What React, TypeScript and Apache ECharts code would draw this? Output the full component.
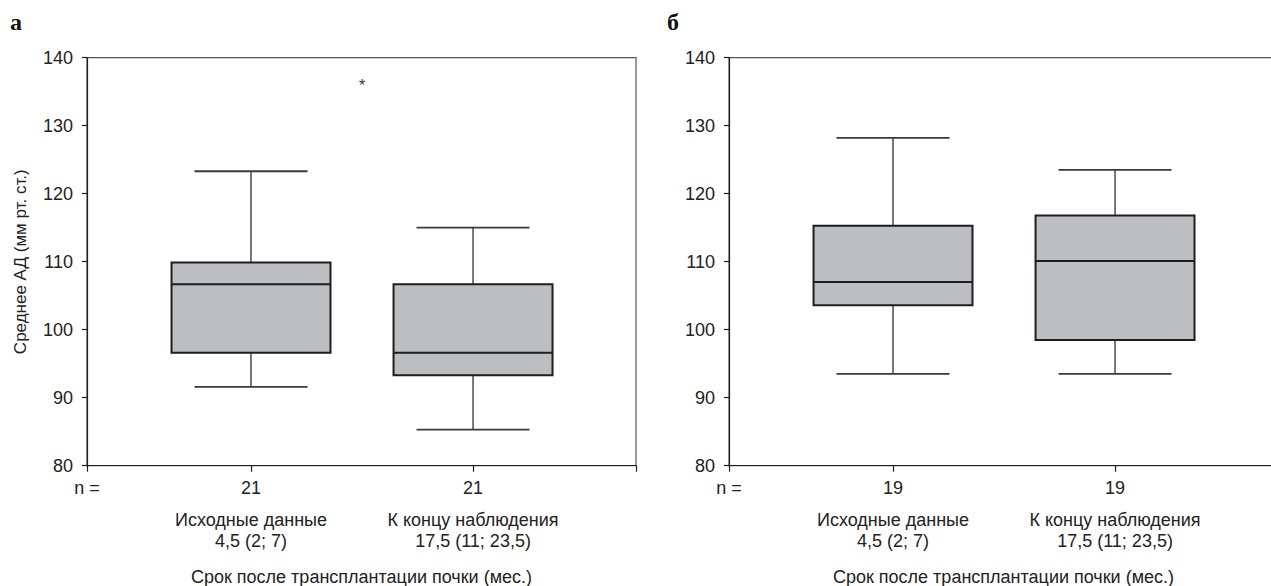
import React, { useEffect, useRef } from "react";
import * as echarts from "echarts";

// ---- data ----
const categories = ["Исходные данные", "К концу наблюдения"];
const periods = ["4,5 (2; 7)", "17,5 (11; 23,5)"];
const catPos = [1, 2];
const nA = [21, 21];
const nB = [19, 19];
// [low whisker, Q1, median, Q3, high whisker]
const boxA = [
  [91.6, 96.6, 106.7, 109.9, 123.3],
  [85.3, 93.3, 96.6, 106.7, 115.0],
];
const boxB = [
  [93.5, 103.6, 107.0, 115.3, 128.2],
  [93.5, 98.5, 110.1, 116.8, 123.5],
];
const outlierA = [[1.5, 136.5]];
const yTicks = { min: 80, max: 140, step: 10 };
const yTitle = "Среднее АД (мм рт. ст.)";
const xTitle = "Срок после трансплантации почки (мес.)";
const panelLabels = ["а", "б"];

const X_MIN = 0.2613;
const X_MAX = 2.734;
const FONT = "'Liberation Sans', Arial, sans-serif";
const INK = "#1e1e1e";
const FS = 18;

function renderBox(params: any, api: any) {
  const x = api.value(0);
  const lo = api.coord([x, api.value(1)]);
  const q1 = api.coord([x, api.value(2)]);
  const md = api.coord([x, api.value(3)]);
  const q3 = api.coord([x, api.value(4)]);
  const hi = api.coord([x, api.value(5)]);
  const unit = api.size([1, 0])[0];
  const hb = unit * 0.358;
  const hc = unit * 0.2545;
  const cx = md[0];
  const wStyle = { stroke: INK, lineWidth: 1.2 };
  const cStyle = { stroke: "#3a3a3a", lineWidth: 1.8 };
  return {
    type: "group",
    children: [
      { type: "line", shape: { x1: cx, y1: hi[1], x2: cx, y2: q3[1] }, style: wStyle },
      { type: "line", shape: { x1: cx, y1: q1[1], x2: cx, y2: lo[1] }, style: wStyle },
      { type: "line", shape: { x1: cx - hc, y1: hi[1], x2: cx + hc, y2: hi[1] }, style: cStyle },
      { type: "line", shape: { x1: cx - hc, y1: lo[1], x2: cx + hc, y2: lo[1] }, style: cStyle },
      {
        type: "rect",
        shape: { x: cx - hb, y: q3[1], width: hb * 2, height: q1[1] - q3[1] },
        style: { fill: "#bdbec1", stroke: INK, lineWidth: 2 },
      },
      { type: "line", shape: { x1: cx - hb, y1: md[1], x2: cx + hb, y2: md[1] }, style: { stroke: INK, lineWidth: 2 } },
    ],
  };
}

function renderOutlier(params: any, api: any) {
  const p = api.coord([api.value(0), api.value(1)]);
  return {
    type: "text",
    x: p[0],
    y: p[1] + 4,
    style: { text: "*", fontSize: 16, fontFamily: FONT, fill: "#333", align: "center", verticalAlign: "middle" },
  };
}

function makeXAxis(i: number, ns: number[]) {
  return {
    type: "value",
    gridIndex: i,
    min: X_MIN,
    max: X_MAX,
    name: xTitle,
    nameLocation: "middle",
    nameGap: 102,
    nameTextStyle: { fontSize: FS, fontFamily: FONT, color: "#222" },
    axisLine: { show: true, onZero: false, lineStyle: { color: INK, width: 1.2 } },
    axisTick: { show: true, customValues: [X_MIN, ...catPos, X_MAX], length: 6, lineStyle: { color: INK, width: 1.2 } },
    axisLabel: {
      customValues: [X_MIN, ...catPos],
      margin: 0,
      color: "#222",
      fontFamily: FONT,
      formatter: (v: number) => {
        if (Math.abs(v - X_MIN) < 1e-6) return "{n|n =}";
        const k = catPos.indexOf(Math.round(v));
        return `{n|${ns[k]}}\n{c|${categories[k]}}\n{c|${periods[k]}}`;
      },
      rich: {
        n: { fontSize: FS, lineHeight: 44, fontFamily: FONT, color: "#222" },
        c: { fontSize: FS, lineHeight: 21, fontFamily: FONT, color: "#222" },
      },
    },
    splitLine: { show: false },
  };
}

function makeYAxis(i: number, withName: boolean) {
  return {
    type: "value",
    gridIndex: i,
    min: yTicks.min,
    max: yTicks.max,
    interval: yTicks.step,
    name: withName ? yTitle : "",
    nameLocation: "middle",
    nameRotate: 90,
    nameGap: 58,
    nameTextStyle: { fontSize: 17, fontFamily: FONT, color: "#222" },
    axisLine: { show: true, lineStyle: { color: INK, width: 1.2 } },
    axisTick: { show: true, length: 5, lineStyle: { color: INK, width: 1.2 } },
    axisLabel: { fontSize: FS, margin: 14, color: "#222", fontFamily: FONT },
    splitLine: { show: false },
  };
}

export default function App() {
  const ref = useRef<HTMLDivElement>(null);
  useEffect(() => {
    if (!ref.current) return;
    const chart = echarts.init(ref.current, undefined, { renderer: "svg" });
    const toData = (boxes: number[][]) => boxes.map((b, k) => [catPos[k], ...b]);
    const serif = "'Liberation Serif', 'Times New Roman', serif";
    const gridBase = { top: 57.7, width: 549, height: 408, show: true, borderColor: "#555", borderWidth: 1.2, backgroundColor: "transparent", containLabel: false, outerBoundsMode: "none" };
    chart.setOption({
      animation: false,
      backgroundColor: "#ffffff",
      grid: [
        { ...gridBase, left: 87 },
        { ...gridBase, left: 729 },
      ],
      xAxis: [makeXAxis(0, nA), makeXAxis(1, nB)],
      yAxis: [makeYAxis(0, true), makeYAxis(1, false)],
      graphic: [
        { type: "text", left: 10, top: 10, style: { text: panelLabels[0], fontSize: 24, fontWeight: "bold", fontFamily: serif, fill: "#111" } },
        { type: "text", left: 667, top: 10, style: { text: panelLabels[1], fontSize: 24, fontWeight: "bold", fontFamily: serif, fill: "#111" } },
      ],
      series: [
        { type: "custom", xAxisIndex: 0, yAxisIndex: 0, renderItem: renderBox, data: toData(boxA), clip: false },
        { type: "custom", xAxisIndex: 1, yAxisIndex: 1, renderItem: renderBox, data: toData(boxB), clip: false },
        { type: "custom", xAxisIndex: 0, yAxisIndex: 0, renderItem: renderOutlier, data: outlierA, clip: false },
      ],
    });
    return () => chart.dispose();
  }, []);
  return <div ref={ref} style={{ position: "absolute", left: 0, top: 0, width: 1271, height: 586 }} />;
}
